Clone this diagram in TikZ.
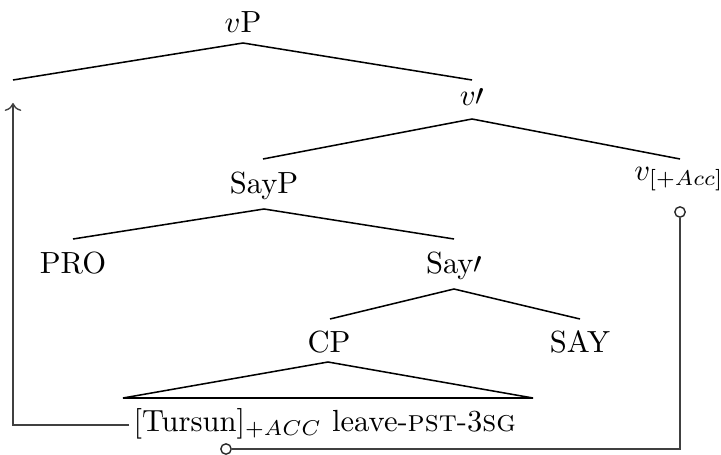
\documentclass[tikz,border=0pt]{standalone}
\usetikzlibrary{arrows.meta}
\begin{document}
\begin{tikzpicture}[x=0.327pt,y=-0.327pt,
  lbl/.style={anchor=base,inner sep=0pt},
  branch/.style={line width=0.5pt,black},
  move/.style={line width=0.45pt,black!75},
  dot/.style={circle,draw=black!85,fill=white,line width=0.45pt,inner sep=0pt,minimum size=3.4pt}]
\useasboundingbox (0,0) rectangle (721,454);
% labels
\node[lbl] (vP) at (243,33) {$v$P};
\node[lbl] (vbar) at (472,105) {$v\prime$};
\node[lbl] (SayP) at (264,193) {SayP};
\node[lbl] (vacc) at (679,180) {$v_{[+Acc]}$};
\node[lbl] (PRO) at (73,273) {PRO};
\node[lbl] (Saybar) at (454,273) {Say$\prime$};
\node[lbl] (CP) at (329,352) {CP};
\node[lbl] (SAY) at (580,352) {SAY};
\node[anchor=base west,inner sep=0pt] (str) at (133,431) {[Tursun]$_{+ACC}$ leave-\textsc{pst}-3\textsc{sg}};
% branch points
\coordinate (vP-s) at (243,43);
\coordinate (t-n) at (13,80);
\coordinate (vbar-n) at (472,80);
\coordinate (vbar-s) at (472,119);
\coordinate (SayP-n) at (263,159);
\coordinate (vacc-n) at (680,159);
\coordinate (SayP-s) at (264,209);
\coordinate (PRO-n) at (73,239);
\coordinate (Saybar-n) at (454,239);
\coordinate (Saybar-s) at (454,289);
\coordinate (CP-n) at (330,319);
\coordinate (SAY-n) at (580,319);
\coordinate (CP-s) at (328,362);
\coordinate (tri-l) at (123,398);
\coordinate (tri-r) at (533,398);
% tree
\draw[branch] (t-n) -- (vP-s) -- (vbar-n);
\draw[branch] (SayP-n) -- (vbar-s) -- (vacc-n);
\draw[branch] (PRO-n) -- (SayP-s) -- (Saybar-n);
\draw[branch] (CP-n) -- (Saybar-s) -- (SAY-n);
\draw[branch] (tri-l) -- (CP-s) -- (tri-r) -- cycle;
% movement
\coordinate (m-start) at (129,425);
\coordinate (t-arrow) at (13,103);
\draw[move,->] (m-start) -| (t-arrow);
% agree
\node[dot] (probe) at (680,212) {};
\node[dot] (goal) at (226,449) {};
\draw[move] (probe.south) |- (goal.east);
\end{tikzpicture}
\end{document}
